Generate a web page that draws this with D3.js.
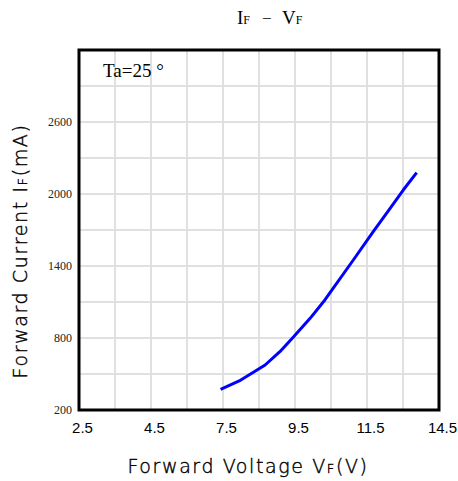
<!DOCTYPE html>
<html><head><meta charset="utf-8">
<script src="https://cdn.jsdelivr.net/npm/d3@7"></script>
<style>body{margin:0;background:#fff}</style>
</head><body>
<script>
const xTickLabels = [2.5, 4.5, 7.5, 9.5, 11.5, 14.5];
const yTickValues = [200, 800, 1400, 2000, 2600];
const vf = [7.40, 7.95, 8.67, 9.08, 9.45, 9.92, 10.33, 11.12, 11.76, 12.38, 13.01, 13.57];
const iF = [371, 442, 575, 686, 806, 964, 1117, 1450, 1686, 1858, 2033, 2178];

const W = 458, H = 481;
const L = 79, R = 439, T = 50, B = 410;
const svg = d3.select("body").append("svg").attr("width", W).attr("height", H);

const x = d3.scaleLinear().domain(xTickLabels)
  .range(xTickLabels.map((d, i) => L + i * (R - L) / (xTickLabels.length - 1)));
const xGrid = d3.scaleLinear().domain([0, 10]).range([L, R]);
const y = d3.scaleLinear().domain([200, 3200]).range([B, T]);

// grid
const g = svg.append("g");
g.selectAll("line.v").data(d3.range(1, 10)).join("line")
  .attr("x1", d => xGrid(d)).attr("x2", d => xGrid(d)).attr("y1", T).attr("y2", B)
  .attr("stroke", "#e0e0e0").attr("stroke-width", 2);
g.selectAll("line.h").data(d3.range(500, 3200, 300)).join("line")
  .attr("y1", d => y(d)).attr("y2", d => y(d)).attr("x1", L).attr("x2", R)
  .attr("stroke", "#e0e0e0").attr("stroke-width", 2);

// axes labels
const xAxis = d3.axisBottom(x).tickValues(xTickLabels).tickSize(0).tickPadding(12).tickFormat(d3.format(".1f"));
const gx = svg.append("g").attr("transform", `translate(0,${B})`).call(xAxis);
gx.select(".domain").remove();
gx.selectAll("text").attr("font-family", "Liberation Sans, Arial, sans-serif").attr("font-size", 15).attr("fill", "#000").attr("dx", 3);

const yAxis = d3.axisLeft(y).tickValues(yTickValues).tickSize(0).tickPadding(7).tickFormat(d3.format("d"));
const gy = svg.append("g").attr("transform", `translate(${L},0)`).call(yAxis);
gy.select(".domain").remove();
gy.selectAll("text").attr("font-family", "Liberation Serif, serif").attr("font-size", 12).attr("fill", "#222");

// line
const line = d3.line().x((d, i) => x(vf[i])).y((d, i) => y(iF[i]));
svg.append("path").datum(vf).attr("d", line).attr("fill", "none")
  .attr("stroke", "#0000ff").attr("stroke-width", 3).attr("stroke-linejoin", "round");

// frame
svg.append("rect").attr("x", L).attr("y", T).attr("width", R - L).attr("height", B - T)
  .attr("fill", "none").attr("stroke", "#000").attr("stroke-width", 3);

// Ta label
svg.append("text").attr("x", 103).attr("y", 77).text("Ta=25 °")
  .attr("font-family", "Liberation Serif, serif").attr("font-size", 19).attr("fill", "#000");

// title
const t = svg.append("text").attr("x", 237).attr("y", 24)
  .attr("font-family", "Liberation Serif, serif").attr("font-size", 19).attr("fill", "#000")
  .attr("xml:space", "preserve").style("white-space", "pre");
t.append("tspan").text("I");
t.append("tspan").text("F").attr("font-size", 12);
t.append("tspan").attr("x", 262).text("−").attr("font-size", 17);
t.append("tspan").attr("x", 282).text("V");
t.append("tspan").text("F").attr("font-size", 12);

// axis titles
const axisFont = "DejaVu Sans, sans-serif";
const xt = svg.append("text").attr("x", 248).attr("y", 473).attr("text-anchor", "middle")
  .attr("font-family", axisFont).attr("font-weight", 200).attr("font-size", 19)
  .attr("letter-spacing", 1.6).attr("fill", "#000").attr("stroke", "#000").attr("stroke-width", 0.4);
xt.append("tspan").text("Forward Voltage V");
xt.append("tspan").text("F").attr("font-size", 13);
xt.append("tspan").text("(V)");

const yt = svg.append("text").attr("transform", "translate(27,251) rotate(-90)").attr("text-anchor", "middle")
  .attr("font-family", axisFont).attr("font-weight", 200).attr("font-size", 19)
  .attr("letter-spacing", 1.6).attr("fill", "#000").attr("stroke", "#000").attr("stroke-width", 0.4);
yt.append("tspan").text("Forward Current I");
yt.append("tspan").text("F").attr("font-size", 13);
yt.append("tspan").text("(mA)");
</script>
</body></html>
